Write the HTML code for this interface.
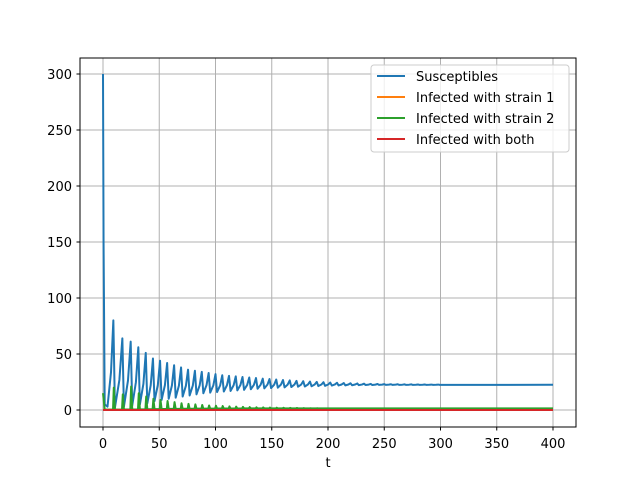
<!DOCTYPE html>
<html><head><meta charset="utf-8"><style>
body{margin:0;background:#fff}
svg text{font-family:"DejaVu Sans","Liberation Sans",sans-serif;font-size:13px;fill:#000}
</style></head><body>
<svg id="chart" width="640" height="480" viewBox="0 0 640 480">
<rect x="0" y="0" width="640" height="480" fill="#fff"/>
<g id="grid"></g>
<g id="series"></g>
<rect x="80" y="58" width="496" height="369" fill="none" stroke="#000" stroke-width="1"/>
<g id="ticks"></g>
<text x="328" y="467" text-anchor="middle">t</text>
<g>
<rect x="371" y="65" width="198" height="87" rx="3" fill="#fff" fill-opacity="0.8" stroke="#ccc"/>
<g><line x1="377" x2="405" y1="76" y2="76" stroke="#1f77b4" stroke-width="2"/><text x="416" y="81">Susceptibles</text></g>
<g><line x1="377" x2="405" y1="97" y2="97" stroke="#ff7f0e" stroke-width="2"/><text x="416" y="102">Infected with strain 1</text></g>
<g><line x1="377" x2="405" y1="118" y2="118" stroke="#2ca02c" stroke-width="2"/><text x="416" y="123">Infected with strain 2</text></g>
<g><line x1="377" x2="405" y1="139" y2="139" stroke="#d62728" stroke-width="2"/><text x="416" y="144">Infected with both</text></g>
</g>
</svg>
<script>
const xTicks=[0,50,100,150,200,250,300,350,400];
const yTicks=[0,50,100,150,200,250,300];
const peakTimes=[9.2,17.2,24.6,31.4,38,44.4,50.7,57,63.2,69.4,75.6,81.7,87.8,93.9,100,106,112,118,124,130,136,142,148,154,160,166,172,178,184,190,196,202,208,214,220,226,232,238,244,250,256,262,268,274,280,286,292,298];
const susPeaks=[80,64,61,56,51,46,44,42,40,38,36,35,34,33,32,31,30.5,30,29.5,29,28.5,28,27.6,27.2,26.8,26.4,26,25.7,25.4,25.1,24.8,24.5,24.3,24.1,23.9,23.7,23.5,23.3,23.2,23.1,23,23,22.9,22.9,22.8,22.8,22.7,22.7];
const susTroughs=[2,3,4,5,6,8,9,10,11,12,13,14,15,15.5,16,16.5,17,17.5,18,18.5,19,19.3,19.6,19.9,20.2,20.5,20.8,21,21.2,21.4,21.6,21.8,21.9,22,22.1,22.2,22.3,22.3,22.4,22.4,22.4,22.4,22.4,22.4,22.4,22.4,22.4,22.4];
const s2Peaks=[20,14,21,15,12,10,9,8,7,6,5.5,5,4.5,4,3.8,3.5,3.2,3,2.8,2.6,2.4,2.3,2.2,2.1,2,1.9,1.8,1.7,1.6,1.6,1.5,1.5,1.5,1.5,1.5,1.5,1.5,1.5,1.5,1.5,1.5,1.5,1.5,1.5,1.5,1.5,1.5,1.5];
const s2Base=[0.3,0.4,0.5,0.6,0.7,0.8,0.9,1,1,1.1,1.1,1.2,1.2,1.2,1.3,1.3,1.3,1.3,1.4,1.4,1.4,1.4,1.4,1.4,1.5,1.5,1.5,1.5,1.5,1.5,1.5,1.5,1.5,1.5,1.5,1.5,1.5,1.5,1.5,1.5,1.5,1.5,1.5,1.5,1.5,1.5,1.5,1.5];
const susStart=[[0,300],[0.5,150],[1.5,5],[4,3]];
const susEnd=22.5, s2Start=15, s2End=1.5, s1Level=0.2, bothLevel=0;
const tMax=400;
const X=t=>103+t*450/400;
const Y=v=>410-v*336/300;
const NS="http://www.w3.org/2000/svg";
function el(tag,attrs,parent){const e=document.createElementNS(NS,tag);for(const k in attrs)e.setAttribute(k,attrs[k]);parent.appendChild(e);return e;}
const grid=document.getElementById('grid'),ticks=document.getElementById('ticks'),series=document.getElementById('series');
xTicks.forEach(t=>{
 const g=el('line',{x1:X(t),x2:X(t),y1:58,y2:427,stroke:'#b0b0b0','stroke-width':1},grid);
 
 
 el('line',{x1:X(t),x2:X(t),y1:427,y2:430.5,stroke:'#000'},ticks);
 const tx=el('text',{x:X(t),y:448,'text-anchor':'middle'},ticks);tx.textContent=t;
 
 
});
yTicks.forEach(v=>{
 const g=el('line',{x1:80,x2:576,y1:Y(v),y2:Y(v),stroke:'#b0b0b0','stroke-width':1},grid);
 
 
 el('line',{x1:76.5,x2:80,y1:Y(v),y2:Y(v),stroke:'#000'},ticks);
 const tx=el('text',{x:72,y:Y(v)+5,'text-anchor':'end'},ticks);tx.textContent=v;
 
 
});
function path(pts,color,name){
 const d=pts.map((p,i)=>(i?'L':'M')+X(p[0]).toFixed(2)+','+Y(p[1]).toFixed(2)).join('');
 const p=el('path',{d:d,fill:'none',stroke:color,'stroke-width':2,'stroke-linejoin':'round'},series);
 
 
}
let sp=susStart.slice();
peakTimes.forEach((t,i)=>{const prev=sp[sp.length-1];sp.push([(prev[0]*0.4+t*0.6),(prev[1]*0.6+susPeaks[i]*0.4)]);sp.push([t,susPeaks[i]]);sp.push([t+1.4,susTroughs[i]]);});
sp.push([tMax,susEnd]);
let gp=[[0,s2Start],[1.5,s2Base[0]]];
peakTimes.forEach((t,i)=>{gp.push([t-0.3,s2Base[i]]);gp.push([t+0.4,s2Peaks[i]]);gp.push([t+1.4,s2Base[i]]);});
gp.push([tMax,s2End]);
path([[0,s1Level],[tMax,s1Level]],'#ff7f0e','series-strain1');
path(sp,'#1f77b4','series-susceptibles');
path(gp,'#2ca02c','series-strain2');
path([[0,bothLevel],[tMax,bothLevel]],'#d62728','series-both');
</script>
</body></html>
